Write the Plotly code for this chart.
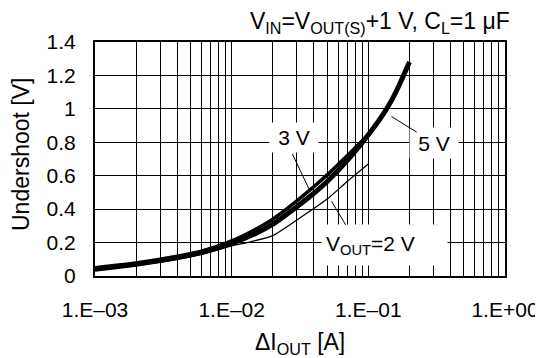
import plotly.graph_objects as go

# data
x_5v = [0.001, 0.002, 0.004, 0.006, 0.01, 0.015, 0.02, 0.03, 0.04, 0.05, 0.07, 0.1, 0.13, 0.15, 0.17, 0.2]
y_5v = [0.04, 0.07, 0.11, 0.14, 0.195, 0.255, 0.31, 0.415, 0.495, 0.565, 0.69, 0.845, 0.975, 1.06, 1.15, 1.28]

x_3v = [0.001, 0.002, 0.004, 0.006, 0.01, 0.015, 0.02, 0.03, 0.04, 0.05, 0.07, 0.1]
y_3v = [0.05, 0.078, 0.118, 0.148, 0.21, 0.28, 0.34, 0.45, 0.535, 0.605, 0.72, 0.845]

x_2v = [0.001, 0.002, 0.004, 0.006, 0.01, 0.013, 0.02, 0.03, 0.05, 0.07, 0.1]
y_2v = [0.032, 0.062, 0.1, 0.13, 0.18, 0.2, 0.242, 0.335, 0.46, 0.565, 0.67]

x_ticks = [0.001, 0.01, 0.1, 1]
x_ticktext = ["1.E\u201303", "1.E\u201302", "1.E\u201301", "1.E+00"]
y_ticks = [0, 0.2, 0.4, 0.6, 0.8, 1.0, 1.2, 1.4]
y_ticktext = ["0", "0.2", "0.4", "0.6", "0.8", "1", "1.2", "1.4"]

FONT = "Arial, Liberation Sans, sans-serif"

fig = go.Figure()
fig.add_trace(go.Scatter(x=x_5v, y=y_5v, mode="lines", name="5 V",
                         line=dict(color="black", width=5, shape="spline", smoothing=0.6)))
fig.add_trace(go.Scatter(x=x_3v, y=y_3v, mode="lines", name="3 V",
                         line=dict(color="black", width=3.5, shape="spline", smoothing=0.6)))
fig.add_trace(go.Scatter(x=x_2v, y=y_2v, mode="lines", name="2 V",
                         line=dict(color="black", width=1.3, shape="spline", smoothing=0.6)))

minor_vals = [m * 10.0 ** e for e in (-3, -2, -1) for m in range(2, 10)]

fig.update_xaxes(
    type="log", range=[-3, 0], automargin=False,
    tickvals=x_ticks, ticktext=x_ticktext, tickfont=dict(size=21),
    showgrid=True, gridcolor="black", gridwidth=1.3,
    minor=dict(tickvals=minor_vals, showgrid=True, gridcolor="black", gridwidth=1, ticks=""),
    showline=True, linecolor="black", linewidth=2, mirror=True,
    ticks="", ticklabelstandoff=14,
    zeroline=False,
)
fig.update_yaxes(
    range=[0, 1.4], automargin=False,
    tickvals=y_ticks, ticktext=y_ticktext, tickfont=dict(size=21),
    showgrid=True, gridcolor="black", gridwidth=1,
    showline=True, linecolor="black", linewidth=2, mirror=True,
    ticks="", ticklabelstandoff=13,
    zeroline=False,
)

# axis titles
fig.add_annotation(xref="paper", yref="paper", x=0.5, y=0, yanchor="middle", yshift=-67,
                   showarrow=False, text="\u0394I<sub>OUT</sub> [A]", font=dict(size=23))
fig.add_annotation(xref="paper", yref="paper", x=0, y=0.5, xanchor="center", xshift=-74,
                   yshift=4, textangle=-90, showarrow=False, text="Undershoot [V]",
                   font=dict(size=23))

# curve labels with white boxes and leader lines
lab = dict(showarrow=False, bgcolor="white", font=dict(size=21, color="black"))
fig.add_annotation(x=-1.544, y=0.83, text="3 V", width=40, height=21, borderpad=4, **lab)
fig.add_annotation(x=-0.52, y=0.797, text="5 V", width=40, height=22, borderpad=4, **lab)
fig.add_annotation(x=-0.882, y=0.188, text="V<sub>OUT</sub>=2 V", width=117,
                   height=32, align="left", borderpad=4, **lab)

lead = dict(showarrow=True, arrowhead=0, arrowwidth=1, arrowcolor="black",
            axref="x", ayref="y", text="")
fig.add_annotation(x=-1.432, y=0.517, ax=-1.561, ay=0.739, **lead)
fig.add_annotation(x=-0.830, y=0.954, ax=-0.635, ay=0.855, **lead)
fig.add_annotation(x=-1.269, y=0.447, ax=-1.159, ay=0.297, **lead)

fig.add_annotation(
    xref="paper", yref="paper", x=1.018, y=1.0, xanchor="right", yanchor="bottom",
    yshift=3, showarrow=False,
    text="V<sub>IN</sub>=V<sub>OUT(S)</sub>+1 V, C<sub>L</sub>=1 \u03bcF",
    font=dict(size=23, color="black"),
)

# the page body shifts the figure by 8 px, so margins are set 8 px tighter on top/left
fig.update_layout(
    width=543, height=358,
    margin=dict(l=87, r=46, t=34, b=90),
    paper_bgcolor="white", plot_bgcolor="white",
    font=dict(family=FONT, size=20, color="black"),
    showlegend=False,
)

fig.write_html("out.html")
